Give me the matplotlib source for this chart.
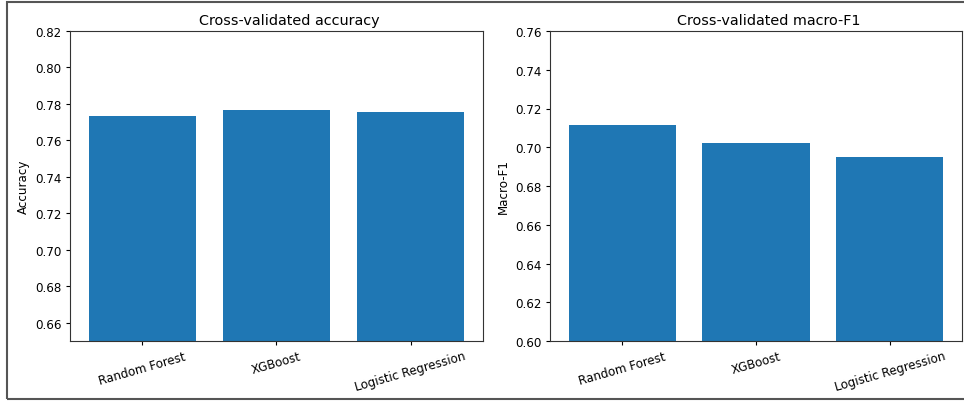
import matplotlib
matplotlib.use("Agg")
import matplotlib.pyplot as plt
from matplotlib.patches import Rectangle

models = ["Random Forest", "XGBoost", "Logistic Regression"]
accuracy = [0.7735, 0.7767, 0.7758]
macro_f1 = [0.7116, 0.7021, 0.6948]

W, H = 964, 402
fig = plt.figure(figsize=(W / 100, H / 100), dpi=100)

def px_axes(x0, x1, y0, y1):
    # axes box given in pixel coords (top-left origin)
    return fig.add_axes([x0 / W, 1 - y1 / H, (x1 - x0) / W, (y1 - y0) / H])

ax1 = px_axes(70, 483, 32, 342)
ax2 = px_axes(550, 962, 32, 342)

panels = [
    (ax1, accuracy, "Cross-validated accuracy", "Accuracy", (0.65, 0.82)),
    (ax2, macro_f1, "Cross-validated macro-F1", "Macro-F1", (0.60, 0.76)),
]
for ax, vals, title, ylabel, ylim in panels:
    ax.bar(models, vals, color="#1f77b4")
    ax.set_ylim(*ylim)
    ax.set_title(title, fontsize=10.4, x=0.53, pad=5)
    ax.set_ylabel(ylabel, fontsize=8.6, labelpad=3.5)
    ax.tick_params(axis="both", labelsize=8.6, length=3, pad=3)
    for lbl in ax.get_xticklabels():
        lbl.set_rotation(16)
    for sp in ax.spines.values():
        sp.set_edgecolor("#333333")

# outer frame line
fig.patches.append(Rectangle((7 / W, 2 / H), 1.0, (H - 5) / H, transform=fig.transFigure,
                             fill=False, edgecolor="#555555", linewidth=1.5))

fig.savefig("out.png", dpi=100)
